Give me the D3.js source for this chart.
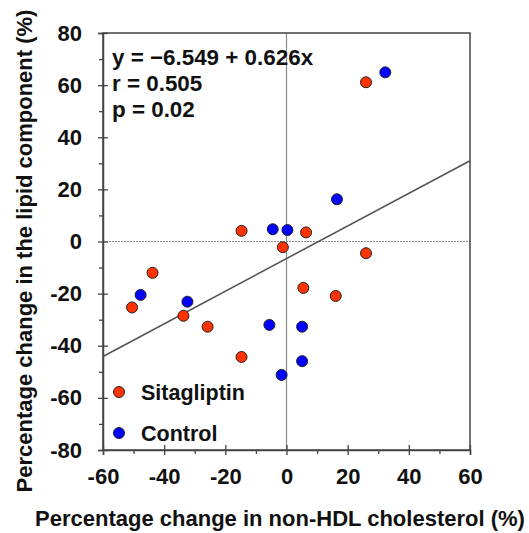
<!DOCTYPE html>
<html>
<head>
<meta charset="utf-8">
<script src="https://cdn.jsdelivr.net/npm/d3@7"></script>
<style>
  body { margin: 0; background: #fff; }
  svg text { font-family: "Liberation Sans", Arial, sans-serif; font-weight: bold; fill: #111; }
</style>
</head>
<body>
<svg id="chart" width="529" height="533"></svg>
<script>
// data
const sitaX = [26.0, 6.4, -14.7, -1.2, -43.8, -50.5, -33.7, -25.8, -14.7, 26.0, 5.5, 16.1];
const sitaY = [61.1, 3.5, 4.1, -2.2, -12.0, -25.3, -28.5, -32.7, -44.3, -4.5, -17.8, -20.9];
const ctrlX = [32.3, 16.5, 0.3, -4.5, -47.7, -32.4, -5.6, -1.6, 5.1, 5.1];
const ctrlY = [64.9, 16.2, 4.4, 4.7, -20.5, -23.1, -32.0, -51.2, -32.7, -45.9];
const xTicks = [-60, -40, -20, 0, 20, 40, 60];
const yTicks = [-80, -60, -40, -20, 0, 20, 40, 60, 80];
const xMinor = [-50, -30, -10, 10, 30, 50];
const yMinor = [-70, -50, -30, -10, 10, 30, 50, 70];
const fit = { intercept: -6.549, slope: 0.626 };
const statLines = ["y = \u22126.549 + 0.626x", "r = 0.505", "p = 0.02"];
const seriesNames = ["Sitagliptin", "Control"];
const seriesColors = ["#ff3300", "#0000ff"];

const margin = { top: 33, right: 59, bottom: 83, left: 103 };
const width = 529, height = 533;
const fontFam = "Liberation Sans, Arial, sans-serif";

const svg = d3.select("#chart");

const x = d3.scaleLinear().domain([-60, 60]).range([margin.left, width - margin.right]);
const y = d3.scaleLinear().domain([-80, 80]).range([height - margin.bottom, margin.top]);

// zero reference lines
svg.append("line")
    .attr("x1", x(0)).attr("x2", x(0))
    .attr("y1", y(80)).attr("y2", y(-80))
    .attr("stroke", "#8a8a8a").attr("stroke-width", 1.2);
svg.append("line")
    .attr("x1", x(-60)).attr("x2", x(60))
    .attr("y1", y(0)).attr("y2", y(0))
    .attr("stroke", "#8a8a8a").attr("stroke-width", 1).attr("stroke-dasharray", "2,1");

// frame
svg.append("rect")
    .attr("x", x(-60)).attr("y", y(80))
    .attr("width", x(60) - x(-60)).attr("height", y(-80) - y(80))
    .attr("fill", "none").attr("stroke", "#444").attr("stroke-width", 1.5);

const plain = d => String(d); // hyphen minus like the original

// x axis
svg.append("g").attr("transform", `translate(0,${y(-80)})`)
    .call(d3.axisBottom(x).tickValues(xTicks).tickSize(5).tickPadding(13).tickFormat(plain))
    .call(g => g.select(".domain").attr("stroke", "#444").attr("stroke-width", 1.5))
    .call(g => g.selectAll(".tick line").attr("y1", -5).attr("stroke", "#444").attr("stroke-width", 1.3))
    .call(g => g.selectAll(".tick text").attr("font-size", 22).attr("font-family", fontFam).attr("font-weight", "bold").attr("fill", "#111"));
svg.append("g").attr("transform", `translate(0,${y(-80)})`)
    .call(d3.axisBottom(x).tickValues(xMinor).tickSize(4).tickFormat(""))
    .call(g => g.select(".domain").remove())
    .call(g => g.selectAll(".tick line").attr("stroke", "#444").attr("stroke-width", 1.3));

// y axis
svg.append("g").attr("transform", `translate(${x(-60)},0)`)
    .call(d3.axisLeft(y).tickValues(yTicks).tickSize(5).tickPadding(16).tickFormat(plain))
    .call(g => g.select(".domain").attr("stroke", "#444").attr("stroke-width", 1.5))
    .call(g => g.selectAll(".tick line").attr("x1", 5).attr("stroke", "#444").attr("stroke-width", 1.3))
    .call(g => g.selectAll(".tick text").attr("font-size", 22).attr("font-family", fontFam).attr("font-weight", "bold").attr("fill", "#111"));
svg.append("g").attr("transform", `translate(${x(-60)},0)`)
    .call(d3.axisLeft(y).tickValues(yMinor).tickSize(4).tickFormat(""))
    .call(g => g.select(".domain").remove())
    .call(g => g.selectAll(".tick line").attr("stroke", "#444").attr("stroke-width", 1.3));

// regression line
svg.append("line")
    .attr("x1", x(-60)).attr("y1", y(fit.intercept + fit.slope * -60))
    .attr("x2", x(60)).attr("y2", y(fit.intercept + fit.slope * 60))
    .attr("stroke", "#555").attr("stroke-width", 1.6);

// points
const sita = sitaX.map((v, i) => ({ x: v, y: sitaY[i] }));
const ctrl = ctrlX.map((v, i) => ({ x: v, y: ctrlY[i] }));
[sita, ctrl].forEach((pts, k) => {
  svg.append("g").selectAll("circle").data(pts).join("circle")
      .attr("cx", d => x(d.x)).attr("cy", d => y(d.y)).attr("r", 5.5)
      .attr("fill", seriesColors[k]).attr("stroke", "#222").attr("stroke-width", 1);
});

// stats text
svg.append("g").selectAll("text").data(statLines).join("text")
    .attr("x", 112).attr("y", (d, i) => 65 + i * 26)
    .attr("font-size", 22.4)
    .text(d => d);

// legend
const legend = svg.append("g").selectAll("g").data(seriesNames).join("g")
    .attr("transform", (d, i) => `translate(119,${392 + i * 41})`);
legend.append("circle").attr("r", 5.5)
    .attr("fill", (d, i) => seriesColors[i]).attr("stroke", "#222").attr("stroke-width", 1);
legend.append("text").attr("x", 22).attr("y", 8).attr("font-size", 21.5).text(d => d);

// axis titles
svg.append("text")
    .attr("x", 280).attr("y", 526)
    .attr("text-anchor", "middle").attr("font-size", 22)
    .text("Percentage change in non-HDL cholesterol (%)");
svg.append("text")
    .attr("transform", "translate(32,251) rotate(-90)")
    .attr("text-anchor", "middle").attr("font-size", 22)
    .text("Percentage change in the lipid component (%)");
</script>
</body>
</html>
